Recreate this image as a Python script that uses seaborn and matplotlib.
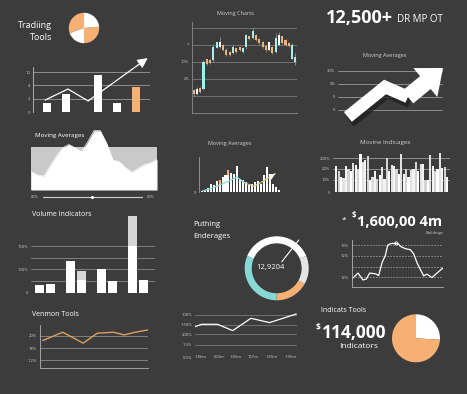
import numpy as np
import matplotlib
matplotlib.use("Agg")
import matplotlib.pyplot as plt
import matplotlib.patheffects as pe
import seaborn as sns

BG = "#3c3c3c"
ORANGE = "#f6b073"
CYAN = "#86d8d4"
GRID = "#8c8c8c"
TXT = "#d0d0d0"

sns.set_theme(style="dark", rc={"axes.facecolor": "none", "figure.facecolor": BG,
                                "savefig.facecolor": BG, "axes.grid": False})
plt.rcParams["font.family"] = ["Open Sans", "DejaVu Sans"]

# ---------------- data ----------------
# trading tools pie (degrees, counter-clockwise from top)
tools_pie = [110, 70, 95, 85]
tools_pie_colors = [ORANGE, "white", ORANGE, "white"]

# trading tools bars + trend line
tt_pos = [0, 1, 2.7, 3.7, 4.7]
tt_vals = [0.68, 1.35, 2.78, 0.68, 1.88]
tt_colors = ["white", "white", "white", "white", ORANGE]
tt_ticks = ["0", "2", "4", "10"]
tt_line_x = [-0.1, 1.1, 2.16, 5.3]
tt_line_y = [0.9, 1.73, 0.83, 4.06]

# moving charts candlesticks
c_open = [1.35, 1.1, 1.45, 1.4, 3.15, 3.1, 3.1, 3.85, 3.9, 4.0, 3.7, 3.6, 3.5, 3.8, 3.9, 3.6,
          3.9, 4.5, 4.4, 4.6, 4.35, 4.2, 3.95, 3.7, 3.9, 3.6, 4.0, 4.5, 4.3, 4.1, 4.0, 3.0]
c_close = [1.1, 1.4, 1.25, 3.0, 2.9, 2.95, 3.9, 4.15, 4.2, 3.7, 3.4, 3.4, 3.9, 3.6, 3.7, 3.85,
           4.6, 4.35, 4.85, 4.3, 4.1, 3.9, 3.7, 4.15, 3.5, 4.4, 4.6, 4.1, 4.0, 3.95, 3.2, 3.3]
c_high = [1.4, 1.5, 1.5, 3.1, 3.2, 3.15, 4.0, 4.2, 4.45, 4.05, 3.8, 3.65, 4.0, 3.85, 3.95, 3.9,
          4.65, 4.55, 5.0, 4.65, 4.4, 4.25, 4.0, 4.2, 3.95, 4.7, 4.75, 4.55, 4.35, 4.15, 4.1, 3.5]
c_low = [1.0, 1.05, 1.2, 1.35, 2.85, 2.9, 3.0, 3.8, 3.85, 3.65, 3.35, 3.35, 3.45, 3.55, 3.65, 3.55,
         3.75, 4.3, 4.35, 4.25, 4.05, 3.85, 3.6, 3.65, 3.45, 3.55, 3.95, 4.05, 3.95, 3.9, 3.15, 2.85]
c_kind = list("owocoocc" "wooocooc" "cocoooow" "ocwoooc") + ["c"]
c_ticks = {2: "2%", 3: "10%", 4: "7"}

# moving averages arrow
ma_x = [0.38, 1.81, 2.69, 4.04]
ma_y = [-0.54, 1.77, 1.0, 3.23]
ma_ticks = ["0", "5", "0%", "30%"]

# moving averages area
area_y = [0.43, 0.35, 0.32, 0.55, 0.78, 0.98, 1.06, 0.98, 0.89, 1.12, 1.38,
          1.38, 1.09, 0.70, 0.66, 0.52, 0.41, 0.50, 0.59, 0.63, 0.71]
slider_value = 0.49

# moving averages histogram
hist_vals = [0.7, 1.7, 4.3, 7.7, 6.7, 11, 11.7, 15, 16.7, 21.7, 19, 18.3, 26, 13.3, 11.7, 10,
             6.7, 7.7, 10, 11, 7.7, 16.7, 25, 18.3, 8.3, 5, 1.7]
hist_accent_idx = [6, 9]
hist_accent_len = [3.5, 5]
trend_x = [0, 3.9, 8.4, 11.8, 14.6, 17.4, 19.7, 21.9, 24.7]
trend_y = [0.7, 4.3, 10, 15, 9, 5.7, 9, 13.3, 18.3]

# movine indicages
ind_vals = [2.4, 1.9, 1.4, 1.3, 2.4, 2.1, 1.9, 2.7, 2.5, 2.1, 3.5, 2.8, 3.0, 3.3, 1.1, 1.4,
            1.9, 1.2, 1.6, 2.3, 1.2, 3.1, 1.9, 2.5, 2.4, 2.1, 1.7, 3.5, 1.7, 2.1, 1.4, 2.0,
            2.1, 2.8, 1.9, 2.6, 2.6, 1.1, 1.1, 3.4, 2.4, 1.9, 2.1, 3.6, 2.2, 2.3, 1.4]
ind_ticks = [0, 1.13, 2.14, 3.12]
ind_labels = ["5", "10%", "20%", "200%"]

# volume indicators
vol_pos = [0, 1, 2.7, 3.7, 5.4, 6.4, 8.1, 9.1]
vol_base = [35, 39, 135, 55, 100, 48, 196, 55]
vol_extra = [0, 0, 0, 38, 0, 0, 125, 0]
vol_grid = [50, 99, 147, 196]

# donut
donut_sizes = [113, 61, 52, 134]
donut_colors = [CYAN, ORANGE, "#e4e4e4", "white"]
needle_angle = 52

# buildings line
bl_x = [0, 6.6, 12.1, 15.8, 19.4, 25.6, 29.3, 33, 36.6, 39.2, 42.9, 48.7, 51.3, 53.1, 58.6,
        64.1, 67.8, 71.4, 75.1, 78.8, 82.4, 87.9, 93.4, 100]
bl_y = [0.77, 1.33, 0.67, 0.77, 1.33, 1.27, 1.1, 2.33, 3.0, 4.0, 4.17, 4.17, 4.1, 3.9, 3.67,
        3.57, 3.17, 2.33, 1.67, 1.07, 1.23, 0.9, 1.33, 1.83]
bl_ticks = [0.93, 1.93, 3.0, 4.0]
bl_labels = ["12%", "", "12%", "13%"]

# venmon tools
vt_x = [0.25, 2.1, 4.0, 5.3, 6.8, 7.8, 8.8, 10.0]
vt_y = [1.62, 2.30, 1.41, 2.22, 2.30, 2.08, 2.30, 2.49]
vt_labels = ["1.2%", "18%", "20%"]

# bottom middle line
bm_x = [0, 6.6, 22, 37, 54.8, 73.1, 99.3]
bm_y = [3.07, 3.3, 3.3, 2.67, 3.9, 3.47, 4.33]
bm_ticks = [0, 1.23, 2.3, 3.23, 4.23]
bm_labels = ["5.5%", "1.5%", "200%", "1.50%", "100%"]
bm_xpos = [5.6, 23.9, 39.7, 56.7, 74.8, 93.4]
bm_xlabels = ["1.8km", "L60m", "1.65m", "167m", "1.65m", "1.95m"]

# indicators pie
ind_pie = [26, 74]
ind_pie_colors = ["white", ORANGE]

# ---------------- figure ----------------
W, H = 467, 394
fig = plt.figure(figsize=(W / 100, H / 100), dpi=100)


def box(l, t, r, b):
    ax = fig.add_axes([l / W, 1 - b / H, (r - l) / W, (b - t) / H])
    ax.set_facecolor("none")
    for s in ax.spines.values():
        s.set_visible(False)
    ax.tick_params(length=0, labelsize=3, labelcolor=TXT, pad=2)
    return ax


def ftext(x, y, s, **kw):
    kw.setdefault("color", "white")
    kw.setdefault("va", "center")
    fig.text(x / W, 1 - y / H, s, **kw)


def hgrid(ax, ys, color=GRID, **kw):
    for y in ys:
        ax.axhline(y, color=color, lw=0.6, zorder=0, **kw)


# --- trading tools ---
ftext(52, 26, "Tradiing", ha="right", fontsize=6.5)
ftext(52, 38, "Tools", ha="right", fontsize=6.5)
ax = box(65, 9, 103, 47)
ax.pie(tools_pie, colors=tools_pie_colors, startangle=90, counterclock=True,
       wedgeprops=dict(linewidth=0))

ax = box(33, 55, 150, 112)
sns.barplot(x=tt_pos, y=tt_vals, native_scale=True, color="white", saturation=1,
            width=0.42, linewidth=0, ax=ax, zorder=2)
for p, c in zip(ax.patches, tt_colors):
    p.set_facecolor(c)
hgrid(ax, range(4), color="#9a9a9a")
ax.spines["left"].set_visible(True)
ax.spines["left"].set_color("#bdbdbd")
ax.spines["left"].set_linewidth(0.6)
ax.spines["left"].set_bounds(0, 3.35)
sns.lineplot(x=tt_line_x[:3], y=tt_line_y[:3], color="white", lw=0.9, ax=ax, sort=False)
ax.annotate("", xy=(tt_line_x[3], tt_line_y[3]), xytext=(tt_line_x[2], tt_line_y[2]),
            arrowprops=dict(arrowstyle="-|>,head_length=0.5,head_width=0.25", color="white",
                            lw=0.9, shrinkA=0, shrinkB=0))
ax.set_yticks(range(4), tt_ticks)
ax.set_xticks([])
ax.set_xlim(-0.74, 5.42)
ax.set_ylim(0, 4.29)
ax.set_xlabel("")

# --- moving charts candles ---
ftext(235, 14, "Moving Charts", ha="center", fontsize=4, color=TXT)
ax = box(192, 22, 297, 113)
hgrid(ax, [1, 2, 3, 4, 5], color="#7a7a7a")
for side in ["left", "bottom"]:
    ax.spines[side].set_visible(True)
    ax.spines[side].set_color("#8a8a8a")
    ax.spines[side].set_linewidth(0.6)
kind_col = {"o": ORANGE, "c": "#a8ecec", "w": "white"}
for i in range(len(c_open)):
    ax.vlines(i, c_low[i], c_high[i], color="#bdbdbd", lw=0.4, zorder=2)
    lo = min(c_open[i], c_close[i])
    ax.bar(i, abs(c_close[i] - c_open[i]), bottom=lo, width=0.62,
           color=kind_col[c_kind[i]], lw=0, zorder=3)
ax.set_yticks(list(c_ticks.keys()), list(c_ticks.values()))
ax.set_xticks([])
ax.set_xlim(-0.5, 31.5)
ax.set_ylim(0, 5.35)

# --- 12,500+ ---
ftext(326, 18, "12,500+", fontsize=13, fontweight="bold")
ftext(397, 20, "DR MP OT", fontsize=7)

# --- moving averages arrow ---
ftext(385, 56, "Moving Averages", ha="center", fontsize=4, color=TXT)
ax = box(338, 62, 442, 118)
hgrid(ax, range(4), color="#9a9a9a")
shadow = [pe.SimpleLineShadow(offset=(1.5, -3.5), shadow_color="#1c1c1c", alpha=0.7), pe.Normal()]
sns.lineplot(x=ma_x[:3], y=ma_y[:3], color="white", lw=9, ax=ax, sort=False,
             solid_joinstyle="miter", solid_capstyle="butt", path_effects=shadow, zorder=3)
ax.annotate("", xy=(ma_x[3], ma_y[3]), xytext=(ma_x[2], ma_y[2]), annotation_clip=False,
            arrowprops=dict(arrowstyle="simple,head_length=1.1,head_width=1.8,tail_width=0.8",
                            fc="white", ec="none", mutation_scale=15, shrinkA=0, shrinkB=0,
                            path_effects=shadow), zorder=3)
for ln in ax.lines:
    ln.set_clip_on(False)
ax.set_yticks(range(4), ma_ticks)
ax.set_xticks([])
ax.set_xlim(0, 4)
ax.set_ylim(-0.62, 3.69)

# --- moving averages area ---
ftext(35, 136, "Moving Averages", fontsize=4.5)
ax = box(31, 120, 157, 190)
ax.axhspan(0, 1, color="#c9c9c9", lw=0, zorder=0)
ax.fill_between(range(len(area_y)), 0, area_y, color="white", lw=0, zorder=1)
sns.lineplot(x=list(range(len(area_y))), y=area_y, color="white", lw=0.5, ax=ax)
ax.set_xlim(0, len(area_y) - 1)
ax.set_ylim(0, 1.63)
ax.set_xticks([])
ax.set_yticks([])
ax = box(43, 193, 143, 201)
ax.axhline(0, color="#d0d0d0", lw=0.8)
ax.scatter([slider_value], [0], s=5, color="white", zorder=3, lw=0)
ax.set_xlim(0, 1)
ax.set_ylim(-1, 1)
ax.set_xticks([])
ax.set_yticks([])
ftext(35, 197, "00%", ha="center", fontsize=2.8, color=TXT)
ftext(151, 197, "00%", ha="center", fontsize=2.8, color=TXT)

# --- moving averages histogram ---
ftext(230, 144, "Moving Averages", ha="center", fontsize=4, color=TXT)
ax = box(199, 157, 282, 192)
sns.barplot(x=list(range(len(hist_vals))), y=hist_vals, color="white", saturation=1,
            width=0.68, linewidth=0, ax=ax, zorder=1)
ax.bar(hist_accent_idx, hist_accent_len,
       bottom=[hist_vals[i] - l for i, l in zip(hist_accent_idx, hist_accent_len)],
       width=0.68, color=ORANGE, lw=0, zorder=2)
sns.lineplot(x=trend_x[:5], y=trend_y[:5], color=CYAN, lw=0.9, ax=ax, sort=False, zorder=4)
sns.lineplot(x=trend_x[4:], y=trend_y[4:], color="#d8cc86", lw=0.9, ax=ax, sort=False,
             zorder=4)
ax.annotate("", xy=(trend_x[-1], trend_y[-1]),
            xytext=(trend_x[-1] - 0.6, trend_y[-1] - 1.1), zorder=5,
            arrowprops=dict(arrowstyle="-|>,head_length=0.3,head_width=0.15", color="white",
                            lw=0.6, shrinkA=0, shrinkB=0))
ax.spines["left"].set_visible(True)
ax.spines["left"].set_color("#9a9a9a")
ax.spines["left"].set_linewidth(0.6)
ax.set_xlim(-0.91, 27)
ax.set_ylim(0, 35)
ax.set_yticks([0], ["0"])
ax.set_xticks([])

# --- movine indicages ---
ftext(385, 143, "Movine Indicages", ha="center", fontsize=4.5, color=TXT)
ax = box(333, 150, 450, 192)
hgrid(ax, ind_ticks[1:], color="#9a9a9a")
sns.barplot(x=list(range(len(ind_vals))), y=ind_vals, color="white", saturation=1,
            width=0.92, linewidth=0, ax=ax, zorder=2)
shades = ["#f4f4f4", "#d4d4d4", "#ffffff", "#e2e2e2"]
for i, p in enumerate(ax.patches):
    p.set_facecolor(shades[i % 4])
ax.set_xlim(-1.4, 47.2)
ax.set_ylim(0, 3.88)
ax.set_yticks(ind_ticks, ind_labels)
ax.set_xticks([])

# --- volume indicators ---
ftext(32, 215, "Volume Indicators", fontsize=5)
ax = box(31, 205, 155, 293)
hgrid(ax, vol_grid, color="#8a8a8a")
sns.barplot(x=vol_pos, y=vol_base, native_scale=True, color="white", saturation=1,
            width=0.78, linewidth=0, ax=ax, zorder=2)
ax.bar(vol_pos, vol_extra, bottom=vol_base, width=0.78, color="#d6d6d6", lw=0, zorder=2)
ax.set_xlim(-0.72, 10.06)
ax.set_ylim(0, 367)
ax.set_yticks([0, 99, 196], ["0", "100%", "150%"])
ax.set_xticks([])

# --- donut ---
ftext(193, 225, "Puthing", fontsize=5.5)
ftext(193, 237, "Enderages", fontsize=5.5)
ax = box(244.7, 236.3, 308.7, 300.3)
ax.pie(donut_sizes, colors=donut_colors, startangle=157, counterclock=True,
       wedgeprops=dict(width=0.22, linewidth=0))
a = np.deg2rad(needle_angle)
ax.plot([0.26 * np.cos(a), 1.12 * np.cos(a)], [0.26 * np.sin(a), 1.12 * np.sin(a)],
        color="white", lw=0.8, clip_on=False)
ax.set_xlim(-1, 1)
ax.set_ylim(-1, 1)
ftext(270, 267, "12,9204", ha="center", fontsize=5.5)

# --- $1,600,00 4m ---
ftext(344, 220, "*", ha="center", fontsize=6)
ftext(354, 216, "$", ha="center", fontsize=5.5, fontweight="bold")
ftext(357, 222, "1,600,00 4m", fontsize=10.5, fontweight="bold")
ftext(444, 233, "Buildings", ha="right", fontsize=3, color=TXT)
ax = box(352, 240, 443, 287)
hgrid(ax, bl_ticks, color="#9a9a9a", ls=(0, (2, 1.5)))
for side in ["left", "bottom"]:
    ax.spines[side].set_visible(True)
    ax.spines[side].set_color("#b0b0b0")
    ax.spines[side].set_linewidth(0.6)
sns.lineplot(x=bl_x, y=bl_y, color="white", lw=0.9, ax=ax)
ax.scatter([bl_x[11]], [bl_y[11]], s=5, facecolor="none", edgecolor="white", lw=0.6, zorder=4)
ax.set_xlim(0, 100)
ax.set_ylim(0, 4.5)
ax.set_yticks(bl_ticks, bl_labels)
ax.set_xticks([])

# --- venmon tools ---
ftext(32, 315, "Venmon Tools", fontsize=5)
ax = box(40, 325, 148, 368)
hgrid(ax, [0, 1, 2], color="#8a8a8a")
for side in ["left", "bottom"]:
    ax.spines[side].set_visible(True)
    ax.spines[side].set_color("#b0b0b0")
    ax.spines[side].set_linewidth(0.6)
sns.lineplot(x=vt_x, y=vt_y, color="#d9a262", lw=1.0, ax=ax)
ax.set_xlim(0, 10)
ax.set_ylim(-0.62, 2.89)
ax.set_yticks([0, 1, 2], vt_labels)
ax.set_xticks([])

# --- bottom middle line ---
ax = box(195, 312, 297, 357.3)
hgrid(ax, bm_ticks[1:], color="#7a7a7a")
sns.lineplot(x=bm_x, y=bm_y, color="white", lw=0.9, ax=ax)
ax.set_xlim(0, 100)
ax.set_ylim(0, 4.53)
ax.set_yticks(bm_ticks, bm_labels)
ax.set_xticks(bm_xpos, bm_xlabels)
ax.tick_params(axis="x", pad=-2)
ax.set_xlabel("")

# --- indicators pie ---
ftext(321, 310, "Indicats Tools", fontsize=5)
ftext(318, 327, "$", ha="center", fontsize=6, fontweight="bold")
ftext(322, 333, "114,000", fontsize=12.5, fontweight="bold")
ftext(378, 347, "Indicators", ha="right", fontsize=6)
ax = box(386, 308.3, 446, 368.3)
ax.pie(ind_pie, colors=ind_pie_colors, startangle=90, counterclock=False,
       wedgeprops=dict(linewidth=0))

fig.savefig("out.png", dpi=100, facecolor=BG)
